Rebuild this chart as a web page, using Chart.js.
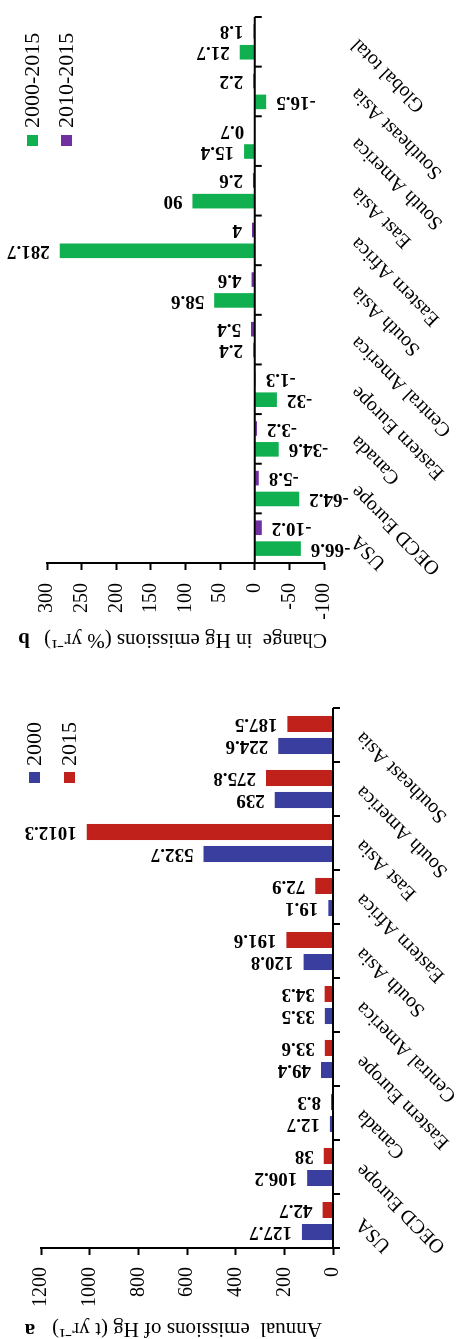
<!DOCTYPE html>
<html>
<head>
<meta charset="utf-8">
<script src="https://cdn.jsdelivr.net/npm/chart.js@4.4.0/dist/chart.umd.min.js"></script>
<style>
  html, body { margin: 0; padding: 0; background: #fff; overflow: hidden; }
  /* the figure is drawn upright (1339 x 462) and then turned a quarter turn to the left */
  #fig { position: absolute; left: 0; top: 0; width: 1339px; height: 462px;
         transform-origin: 0 0; transform: translate(0, 1339px) rotate(-90deg); }
  #fig canvas { position: absolute; top: 0; }
  #chartA { left: 0; }
  #chartB { left: 680px; }
</style>
</head>
<body>
<div id="fig">
  <canvas id="chartA" width="665" height="462"></canvas>
  <canvas id="chartB" width="659" height="462"></canvas>
</div>
<script>
// panel a - annual Hg emissions (t/yr)
const regionsA = ["USA", "OECD Europe", "Canada", "Eastern Europe", "Central America",
  "South Asia", "Eastern Africa", "East Asia", "South America", "Southeast Asia"];
const emis2000 = [127.7, 106.2, 12.7, 49.4, 33.5, 120.8, 19.1, 532.7, 239, 224.6];
const emis2015 = [42.7, 38, 8.3, 33.6, 34.3, 191.6, 72.9, 1012.3, 275.8, 187.5];

// panel b - change in Hg emissions (%/yr)
const regionsB = ["USA", "OECD Europe", "Canada", "Eastern Europe", "Central America",
  "South Asia", "Eastern Africa", "East Asia", "South America", "Southeast Asia", "Global total"];
const chg2000 = [-66.6, -64.2, -34.6, -32, 2.4, 58.6, 281.7, 90, 15.4, -16.5, 21.7];
const chg2010 = [-10.2, -5.8, -3.2, -1.3, 5.4, 4.6, 4, 2.6, 0.7, 2.2, 1.8];

const SERIF = "'Liberation Serif', 'Times New Roman', serif";

// category axis sits on the zero line, with little ticks between the groups
const zeroAxis = {
  id: "zeroAxis",
  afterDatasetsDraw(chart) {
    const { ctx, chartArea, scales } = chart;
    const y0 = scales.y.getPixelForValue(0);
    const n = chart.data.labels.length;
    const w = (chartArea.right - chartArea.left) / n;
    ctx.save();
    ctx.strokeStyle = "#000";
    ctx.lineWidth = 2;
    ctx.beginPath();
    ctx.moveTo(chartArea.left, y0);
    ctx.lineTo(chartArea.right, y0);
    for (let i = 0; i <= n; i++) {
      const xx = chartArea.left + i * w;
      ctx.moveTo(xx, y0);
      ctx.lineTo(xx, y0 + 7);
    }
    ctx.stroke();
    ctx.restore();
  }
};

// the numbers at the end of every bar, written sideways
const barLabels = {
  id: "barLabels",
  afterDatasetsDraw(chart) {
    const ctx = chart.ctx;
    ctx.save();
    ctx.font = "bold 19px " + SERIF;
    ctx.fillStyle = "#000";
    ctx.textBaseline = "middle";
    chart.data.datasets.forEach((ds, di) => {
      chart.getDatasetMeta(di).data.forEach((bar, i) => {
        const v = ds.data[i];
        ctx.save();
        ctx.translate(bar.x, bar.y);
        ctx.rotate(-Math.PI / 2);
        if (v >= 0) {
          ctx.textAlign = "left";
          ctx.fillText(String(v), 10, 0);
        } else {
          ctx.textAlign = "right";
          ctx.fillText(String(v), -10, 0);
        }
        ctx.restore();
      });
    });
    ctx.restore();
  }
};

// legend + panel letter
const extras = {
  id: "extras",
  afterDraw(chart, args, opts) {
    const ctx = chart.ctx;
    ctx.save();
    ctx.textBaseline = "middle";
    ctx.textAlign = "left";
    ctx.font = "22px " + SERIF;
    chart.data.datasets.forEach((ds, i) => {
      const top = opts.legendY + i * opts.rowGap;
      ctx.fillStyle = ds.backgroundColor;
      ctx.fillRect(opts.legendX, top, 11, 11);
      ctx.fillStyle = "#000";
      ctx.fillText(ds.label, opts.legendX + 11 + opts.gap, top + 6);
    });
    ctx.restore();

    // bold panel letter, turned like the axis title
    ctx.save();
    ctx.translate(opts.letterX, opts.letterY);
    ctx.rotate(-Math.PI / 2);
    ctx.fillStyle = "#000";
    ctx.textAlign = "center";
    ctx.textBaseline = "middle";
    ctx.font = "bold 21px " + SERIF;
    ctx.fillText(opts.letter, 0, 0);
    ctx.restore();
  }
};

function yAxis(min, max, step, width, pad, title, titlePad) {
  return {
    min: min, max: max,
    afterFit: (s) => { s.width = width; },
    border: { display: true, color: "#000", width: 2 },
    grid: { drawOnChartArea: false, drawTicks: true, tickLength: 7, tickWidth: 2, tickColor: "#000" },
    ticks: { stepSize: step, color: "#000", padding: pad, font: { family: SERIF, size: 20 },
      callback: (v) => String(v) },
    title: { display: true, text: title, color: "#000", padding: { top: titlePad, bottom: 0 },
      font: { family: SERIF, size: 21, lineHeight: 1 } }
  };
}

function xAxis(height, pad) {
  return {
    afterFit: (s) => { s.height = height; },
    grid: { display: false },
    border: { display: false },
    ticks: { color: "#000", autoSkip: false, minRotation: 45, maxRotation: 45, padding: pad,
      font: { family: SERIF, size: 20 } }
  };
}

new Chart(document.getElementById("chartA"), {
  type: "bar",
  data: {
    labels: regionsA,
    datasets: [
      { label: "2000", data: emis2000, backgroundColor: "#3a3e9f", barPercentage: 0.73, categoryPercentage: 0.815 },
      { label: "2015", data: emis2015, backgroundColor: "#c0221b", barPercentage: 0.73, categoryPercentage: 0.815 }
    ]
  },
  options: {
    responsive: false,
    animation: false,
    layout: { padding: { top: 41, right: 34, left: 0, bottom: 0 } },
    scales: {
      x: xAxis(129, 10),
      y: yAxis(0, 1200, 200, 91, 12, "Annual  emissions of Hg (t yr\u207B\u00B9)", 0)
    },
    plugins: {
      legend: { display: false },
      tooltip: { enabled: false },
      extras: { legendX: 556, legendY: 29, rowGap: 35, gap: 6, letter: "a", letterX: 10, letterY: 30 }
    }
  },
  plugins: [zeroAxis, barLabels, extras]
});

new Chart(document.getElementById("chartB"), {
  type: "bar",
  data: {
    labels: regionsB,
    datasets: [
      { label: "2000-2015", data: chg2000, backgroundColor: "#10b050", barPercentage: 0.7, categoryPercentage: 0.84 },
      { label: "2010-2015", data: chg2010, backgroundColor: "#7030a0", barPercentage: 0.7, categoryPercentage: 0.84 }
    ]
  },
  options: {
    responsive: false,
    animation: false,
    layout: { padding: { top: 47, right: 17, left: 0, bottom: 0 } },
    scales: {
      x: xAxis(138, 14),
      y: yAxis(-100, 300, 50, 96, 13, "Change  in Hg emissions (% yr\u207B\u00B9)", 9)
    },
    plugins: {
      legend: { display: false },
      tooltip: { enabled: false },
      extras: { legendX: 513, legendY: 27, rowGap: 34, gap: 7, letter: "b", letterX: 21, letterY: 24 }
    }
  },
  plugins: [zeroAxis, barLabels, extras]
});
</script>
</body>
</html>
